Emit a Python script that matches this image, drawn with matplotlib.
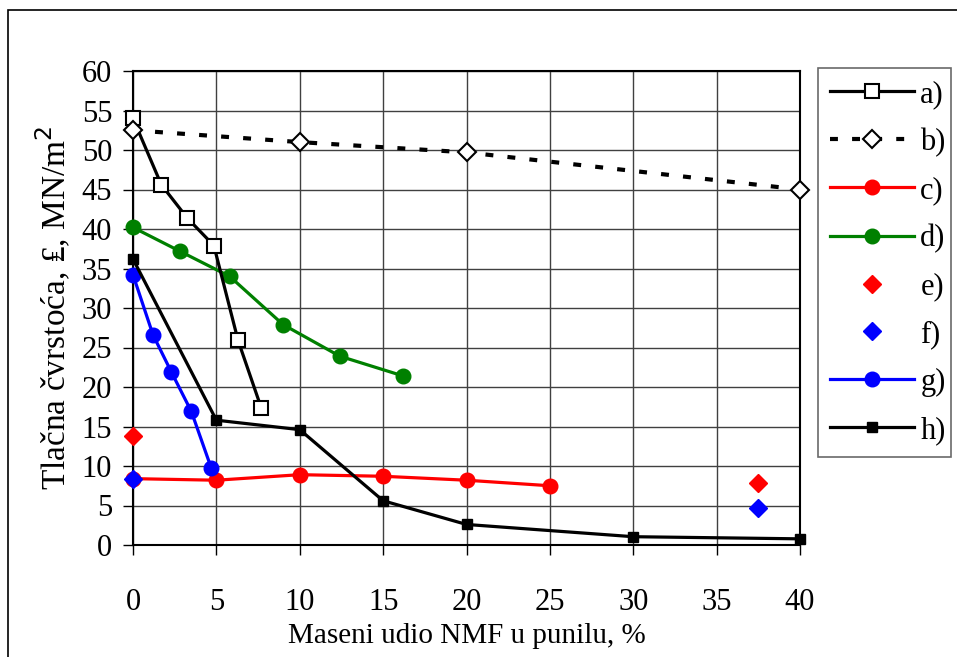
import matplotlib
matplotlib.use("Agg")
import matplotlib.pyplot as plt
from matplotlib.patches import Rectangle

plt.rcParams['font.family'] = ['Liberation Serif', 'DejaVu Serif']
plt.rcParams['font.size'] = 22

# a) open squares, solid black
a_x = [0, 1.7, 3.25, 4.85, 6.3, 7.7]
a_y = [54.0, 45.6, 41.4, 37.9, 25.9, 17.3]
# b) open diamonds, dashed black
b_x = [0, 10, 20, 40]
b_y = [52.5, 51.0, 49.7, 45.0]
# c) red circles
c_x = [0, 5, 10, 15, 20, 25]
c_y = [8.4, 8.2, 8.9, 8.7, 8.2, 7.5]
# d) green circles
d_x = [0, 2.8, 5.8, 9.0, 12.4, 16.2]
d_y = [40.2, 37.2, 34.0, 27.9, 23.9, 21.4]
# e) red diamonds
e_x = [0, 37.5]
e_y = [13.8, 7.8]
# f) blue diamonds
f_x = [0, 37.5]
f_y = [8.4, 4.7]
# g) blue circles
g_x = [0, 1.2, 2.3, 3.5, 4.7]
g_y = [34.2, 26.6, 21.9, 16.9, 9.7]
# h) filled black squares
h_x = [0, 5, 10, 15, 20, 30, 40]
h_y = [36.2, 15.8, 14.6, 5.6, 2.6, 1.05, 0.78]

fig = plt.figure(figsize=(9.57, 6.57), dpi=100)
ax = fig.add_axes([133 / 957, 1 - 545 / 657, (800 - 133) / 957, (545 - 71) / 657])

# outer frame
fig.patches.append(Rectangle((8 / 957, -0.1), 1.2, 1 - 10 / 657 + 0.1,
                             transform=fig.transFigure, fill=False,
                             edgecolor='black', linewidth=1.2))

lw = 2.3
ax.plot(a_x, a_y, '-', color='black', lw=lw, marker='s', ms=10,
        mfc='white', mec='black', mew=1.5, label='a)', zorder=5)
ax.plot(b_x, b_y, color='black', lw=3.0, ls=(0, (1.9, 3.4)), marker='D', ms=9,
        mfc='white', mec='black', mew=1.5, label='b)', zorder=5)
ax.plot(c_x, c_y, '-', color='red', lw=lw, marker='o', ms=10.5, label='c)', zorder=4)
ax.plot(d_x, d_y, '-', color='green', lw=lw, marker='o', ms=10.5, label='d)', zorder=4)
ax.plot(e_x, e_y, ls='none', color='red', marker='D', ms=9.5, label='e)', zorder=6)
ax.plot(f_x, f_y, ls='none', color='blue', marker='D', ms=9.5, label='f)', zorder=6)
ax.plot(g_x, g_y, '-', color='blue', lw=lw, marker='o', ms=10.5, label='g)', zorder=4)
ax.plot(h_x, h_y, '-', color='black', lw=lw, marker='s', ms=7.5, label='h)', zorder=5)

ax.set_xlim(0, 40)
ax.set_ylim(0, 60)
ax.set_xticks(range(0, 41, 5))
ax.set_yticks(range(0, 61, 5))
ax.grid(True, color='#404040', lw=1.0)
ax.set_axisbelow(True)
ax.tick_params(direction='out', length=7, width=1.0, pad=8)
ax.tick_params(axis='x', pad=24)
for s in ax.spines.values():
    s.set_linewidth(1.5)
    s.set_clip_on(False)
for ln in ax.get_lines():
    ln.set_clip_on(False)

ax.set_xlabel('Maseni udio NMF u punilu, %', fontsize=21, labelpad=4)
ax.set_ylabel('Tlačna čvrstoća, ₤, MN/m$^2$', fontsize=24, labelpad=6)

leg = ax.legend(loc='center', bbox_to_anchor=(818 / 957, 1 - 458 / 657, (951 - 818) / 957, (458 - 67) / 657),
                bbox_transform=fig.transFigure, mode='expand', frameon=True, fancybox=False,
                edgecolor='#444444', handlelength=2.75, labelspacing=0.62, borderaxespad=0,
                handletextpad=0.2, borderpad=0.4, fontsize=22)
leg.get_frame().set_linewidth(1.2)

fig.savefig('out.png', dpi=100)
